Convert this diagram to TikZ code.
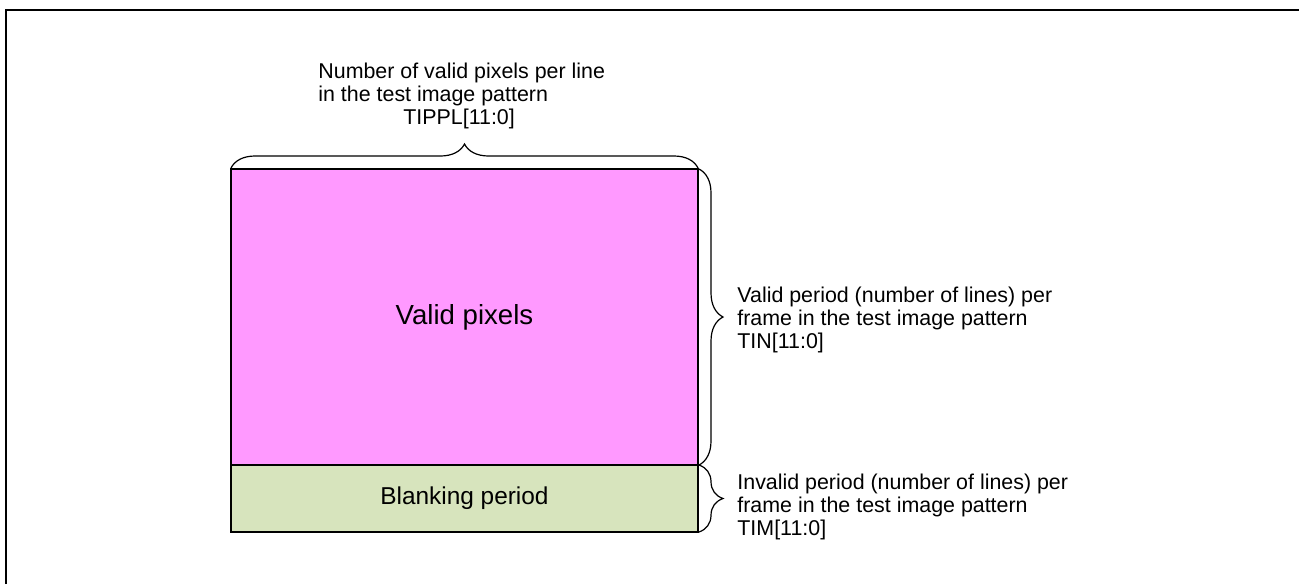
\documentclass[tikz,border=0pt]{standalone}
\usepackage{fontspec}
\setmainfont{Liberation Sans}
\usetikzlibrary{positioning,decorations.pathreplacing}

\definecolor{validpink}{HTML}{FF99FF}
\definecolor{blankgreen}{HTML}{D7E4BD}

\tikzset{
  areabox/.style={draw, line width=1pt, outer sep=0pt, inner sep=0pt,
    minimum width=233.5pt, font=\fontsize{12.2}{14}\selectfont},
  curly/.style={decorate, decoration={brace, amplitude=12pt, raise=0.5pt}, line width=0.6pt},
  note/.style={align=left, inner sep=0pt, font=\fontsize{10.7}{11.5}\selectfont}
}

\begin{document}
\begin{tikzpicture}[x=0.5pt, y=-0.5pt]
    % page size of the reference, in pixels
    \useasboundingbox (0,0) rectangle (1299,584);
    \draw[line width=1.3pt] (6,584) |- (1299,10);
    % the frame: valid area on top, blanking lines below
    \node[areabox, fill=validpink, minimum height=148pt,
      font=\fontsize{13.8}{16}\selectfont] (valid) at (464.5,317) {Valid pixels};
    \node[areabox, fill=blankgreen, minimum height=33.5pt, below=0pt of valid] (blank) {Blanking period};
    % braces round the areas
    \draw[curly] (valid.north west) -- (valid.north east);
    \draw[curly] (valid.north east) -- (valid.south east);
    \draw[curly] (blank.north east) -- (blank.south east);
    % the register that sets each length
    \node[note, anchor=west] (tippl) at (318,96)
      {Number of valid pixels per line\\in the test image pattern\\\hspace*{42.5pt}TIPPL[11:0]};
    \node[note, anchor=west] (tin) at (737,320)
      {Valid period (number of lines) per\\frame in the test image pattern\\TIN[11:0]};
    \node[note, anchor=west] (tim) at (737,507)
      {Invalid period (number of lines) per\\frame in the test image pattern\\TIM[11:0]};
  \end{tikzpicture}
\end{document}
